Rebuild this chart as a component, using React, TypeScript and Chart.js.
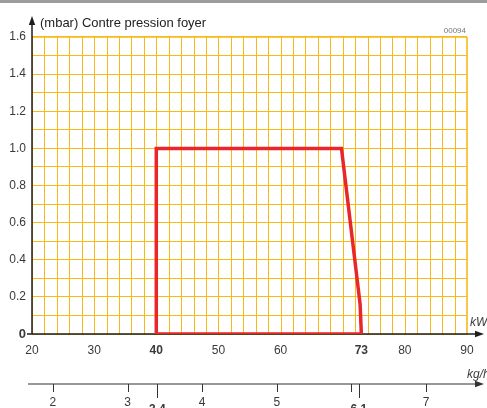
import React, { useEffect, useRef } from 'react';
import { Chart, registerables } from 'chart.js';
Chart.register(...registerables);

const W = 487;
const H = 408;

const TITLE = '(mbar) Contre pression foyer';
const CODE = '00094';
const X_UNIT = 'kW';
const X2_UNIT = 'kg/h';

// working field polygon (kW, mbar)
const powerKW = [40, 40, 69.8, 72.8, 73, 40];
const pressureMbar = [0, 1.0, 1.0, 0.16, 0, 0];

const kwMin = 20;
const kwMax = 90;
const kwGridStep = 2;
const kwLabelValues = [20, 30, 40, 50, 60, 73, 80, 90];
const kwBoldValues = [40, 73];

const mbarMin = 0;
const mbarMax = 1.6;
const mbarGridCount = 16; // grid every 0.1
const mbarLabelEvery = 2; // label every 0.2

const kgMin = 1.72;
const kgMax = 7.55;
const kgTicks = [2, 3, 3.4, 4, 5, 6, 6.1, 7];
const kgLabeled = [2, 3, 3.4, 4, 5, 6.1, 7];
const kgBold = [3.4, 6.1];

const FONT = "'Liberation Sans', Arial, Helvetica, sans-serif";
const GRID = '#f8b91a';
const CLEAR = 'rgba(0,0,0,0)';
const TEXT = '#3a3a3a';
const AXIS = '#1e1e1e';

function arrowHead(ctx: CanvasRenderingContext2D, x: number, y: number, dir: 'up' | 'right') {
  ctx.beginPath();
  if (dir === 'up') {
    ctx.moveTo(x, y);
    ctx.lineTo(x - 3.2, y + 9);
    ctx.lineTo(x + 3.2, y + 9);
  } else {
    ctx.moveTo(x, y);
    ctx.lineTo(x - 9, y - 3.2);
    ctx.lineTo(x - 9, y + 3.2);
  }
  ctx.closePath();
  ctx.fill();
}

export default function App() {
  const ref = useRef<HTMLCanvasElement>(null);
  useEffect(() => {
    const canvas = ref.current!;
    const decor = {
      id: 'decor',
      beforeDraw(chart: any) {
        const ctx = chart.ctx as CanvasRenderingContext2D;
        ctx.save();
        ctx.fillStyle = '#ffffff';
        ctx.fillRect(0, 0, W, H);
        ctx.fillStyle = '#9c9c9c';
        ctx.fillRect(0, 0, W, 3);
        ctx.restore();
      },
      beforeDatasetsDraw(chart: any) {
        const ctx = chart.ctx as CanvasRenderingContext2D;
        const a = chart.chartArea;
        const xs = chart.scales.x;
        const x2 = chart.scales.x2;
        ctx.save();
        // vertical grid (every kwGridStep kW)
        ctx.strokeStyle = GRID;
        const n = Math.round((kwMax - kwMin) / kwGridStep);
        for (let i = 0; i <= n; i++) {
          const v = kwMin + i * kwGridStep;
          const w = v === kwMax ? 1.6 : 1;
          ctx.lineWidth = w;
          const px = w === 1 ? Math.round(xs.getPixelForValue(v)) + 0.5 : Math.round(xs.getPixelForValue(v));
          ctx.beginPath();
          ctx.moveTo(px, a.top);
          ctx.lineTo(px, a.bottom);
          ctx.stroke();
        }
        ctx.strokeStyle = AXIS;
        ctx.fillStyle = AXIS;
        ctx.lineWidth = 1.5;
        // y axis
        ctx.beginPath();
        ctx.moveTo(a.left, a.bottom);
        ctx.lineTo(a.left, 22);
        ctx.stroke();
        arrowHead(ctx, a.left, 16, 'up');
        // x axis
        ctx.beginPath();
        ctx.moveTo(a.left - 5, a.bottom);
        ctx.lineTo(W - 6, a.bottom);
        ctx.stroke();
        arrowHead(ctx, W - 3, a.bottom, 'right');
        // kg/h axis
        const y2 = x2.top;
        ctx.lineWidth = 1.2;
        ctx.strokeStyle = '#333';
        ctx.fillStyle = '#333';
        ctx.beginPath();
        ctx.moveTo(28, y2);
        ctx.lineTo(W - 6, y2);
        ctx.stroke();
        arrowHead(ctx, W - 3, y2, 'right');
        ctx.lineWidth = 1;
        kgTicks.forEach((v) => {
          const px = Math.round(x2.getPixelForValue(v)) + 0.5;
          const len = kgBold.includes(v) ? 14 : 8;
          ctx.beginPath();
          ctx.moveTo(px, y2);
          ctx.lineTo(px, y2 + len);
          ctx.stroke();
        });
        ctx.restore();
      },
      afterDraw(chart: any) {
        const ctx = chart.ctx as CanvasRenderingContext2D;
        const a = chart.chartArea;
        const x2 = chart.scales.x2;
        ctx.save();
        ctx.fillStyle = '#222';
        ctx.font = `13px ${FONT}`;
        ctx.textAlign = 'left';
        ctx.textBaseline = 'middle';
        ctx.fillText(TITLE, 40, 23);
        ctx.font = `italic 12px ${FONT}`;
        ctx.fillStyle = TEXT;
        ctx.fillText(X_UNIT, 470, a.bottom - 11);
        ctx.fillText(X2_UNIT, 467, x2.top - 9);
        ctx.font = `8px ${FONT}`;
        ctx.fillStyle = '#777';
        ctx.textAlign = 'right';
        ctx.fillText(CODE, 466, 31);
        ctx.restore();
      },
    };

    const chart = new Chart(canvas, {
      type: 'scatter',
      data: {
        datasets: [
          {
            data: powerKW.map((x, i) => ({ x, y: pressureMbar[i] })),
            showLine: true,
            borderColor: '#e8262b',
            borderWidth: 3.5,
            borderJoinStyle: 'miter',
            backgroundColor: 'rgba(255,255,255,0.6)',
            fill: 'origin',
            pointRadius: 0,
            tension: 0,
          },
        ],
      },
      options: {
        responsive: false,
        animation: false,
        devicePixelRatio: 1,
        borderColor: CLEAR,
        layout: { padding: { top: 37, right: 20, left: 0, bottom: 0 } },
        plugins: { legend: { display: false }, tooltip: { enabled: false } },
        scales: {
          x: {
            type: 'linear',
            position: 'bottom',
            weight: 0,
            min: kwMin,
            max: kwMax,
            afterFit: (s: any) => {
              s.height = 50;
            },
            afterBuildTicks: (s: any) => {
              s.ticks = kwLabelValues.map((v) => ({ value: v }));
            },
            border: { display: false },
            grid: { display: false, drawTicks: false },
            ticks: {
              autoSkip: false,
              maxRotation: 0,
              padding: 9,
              color: TEXT,
              font: (c: any) =>
                c.tick && kwBoldValues.includes(c.tick.value)
                  ? { family: FONT, size: 12, weight: 'bold' }
                  : { family: FONT, size: 12 },
              callback: (v: any) => String(v),
            },
          },
          x2: {
            type: 'linear',
            position: 'bottom',
            weight: 1,
            min: kgMin,
            max: kgMax,
            afterFit: (s: any) => {
              s.height = 24;
            },
            afterBuildTicks: (s: any) => {
              s.ticks = kgTicks.map((v) => ({ value: v }));
            },
            border: { display: false },
            grid: { display: false, drawTicks: false },
            ticks: {
              autoSkip: false,
              maxRotation: 0,
              padding: 11,
              color: TEXT,
              font: (c: any) =>
                c.tick && kgBold.includes(c.tick.value)
                  ? { family: FONT, size: 12, weight: 'bold', lineHeight: 0.83 }
                  : { family: FONT, size: 12 },
              callback: (v: any) => {
                const n = Number(v);
                if (!kgLabeled.includes(n)) return '';
                return kgBold.includes(n) ? ['', String(n)] : String(n);
              },
            },
          },
          y: {
            type: 'linear',
            min: mbarMin,
            max: mbarMax,
            afterFit: (s: any) => {
              s.width = 32;
            },
            afterBuildTicks: (s: any) => {
              const t: { value: number }[] = [];
              for (let i = 0; i <= mbarGridCount; i++) {
                t.push({ value: Math.round((mbarMin + ((mbarMax - mbarMin) * i) / mbarGridCount) * 1000) / 1000 });
              }
              s.ticks = t;
            },
            border: { display: false },
            grid: {
              drawTicks: false,
              color: GRID,
              lineWidth: (c: any) => (c.tick && c.tick.value === mbarMax ? 1.8 : 1),
            },
            ticks: {
              autoSkip: false,
              padding: 6,
              color: TEXT,
              font: (c: any) =>
                c.tick && c.tick.value === 0
                  ? { family: FONT, size: 13, weight: 'bold' }
                  : { family: FONT, size: 12 },
              callback: (v: any, i: number) => {
                if (i % mbarLabelEvery !== 0) return '';
                const n = Number(v);
                return n === 0 ? '0' : n.toFixed(1);
              },
            },
          },
        },
      },
      plugins: [decor],
    } as any);
    return () => chart.destroy();
  }, []);

  return (
    <div style={{ position: 'absolute', left: 0, top: 0, width: W, height: H, background: '#fff' }}>
      <canvas ref={ref} width={W} height={H} style={{ display: 'block', width: W, height: H }} />
    </div>
  );
}
